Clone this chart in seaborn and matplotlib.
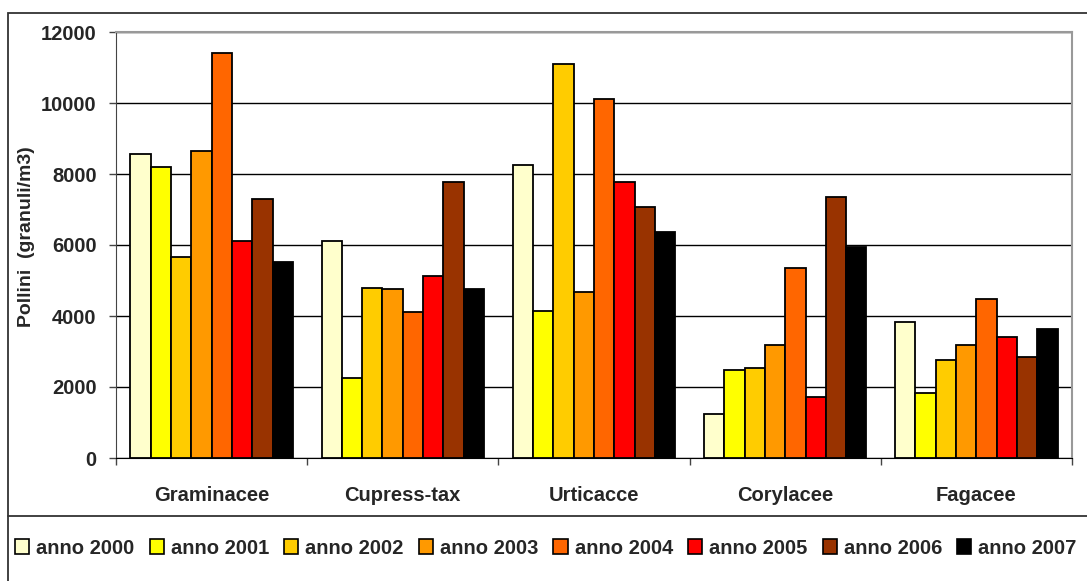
import pandas as pd
import matplotlib.pyplot as plt
import seaborn as sns
from matplotlib.patches import Rectangle
from matplotlib.ticker import FixedLocator

categories = ['Graminacee', 'Cupress-tax', 'Urticacce', 'Corylacee', 'Fagacee']
years = ['anno 2000', 'anno 2001', 'anno 2002', 'anno 2003',
         'anno 2004', 'anno 2005', 'anno 2006', 'anno 2007']

anno_2000 = [8550, 6100, 8260, 1240, 3840]
anno_2001 = [8210, 2250, 4150, 2480, 1830]
anno_2002 = [5670, 4800, 11090, 2530, 2760]
anno_2003 = [8650, 4750, 4690, 3190, 3190]
anno_2004 = [11410, 4100, 10110, 5350, 4490]
anno_2005 = [6100, 5130, 7780, 1730, 3400]
anno_2006 = [7300, 7780, 7080, 7350, 2850]
anno_2007 = [5520, 4760, 6380, 5950, 3620]

colors = ['#FFFFCC', '#FFFF00', '#FFCC00', '#FF9900',
          '#FF6600', '#FF0000', '#993300', '#000000']

series = [anno_2000, anno_2001, anno_2002, anno_2003,
          anno_2004, anno_2005, anno_2006, anno_2007]
rows = []
for year, vals in zip(years, series):
    for cat, v in zip(categories, vals):
        rows.append({'categoria': cat, 'anno': year, 'pollini': v})
df = pd.DataFrame(rows)

sns.set_style('white')
plt.rcParams['font.family'] = ['Liberation Sans', 'DejaVu Sans']
plt.rcParams['font.weight'] = 'bold'

W, H = 1087, 581
fig = plt.figure(figsize=(W / 100, H / 100), dpi=100)
ax = fig.add_axes([116 / W, 1 - 458 / H, (1072 - 116) / W, (458 - 32) / H])

sns.barplot(data=df, x='categoria', y='pollini', hue='anno', order=categories,
            hue_order=years, palette=colors, width=0.85, edgecolor='black',
            linewidth=1.3, saturation=1, errorbar=None, ax=ax, legend=False)

ax.set_ylim(0, 12000)
ax.set_xlim(-0.5, len(categories) - 0.5)
ax.set_yticks(range(0, 12001, 2000))
ax.yaxis.grid(True, color='black', linewidth=1)
ax.set_axisbelow(True)

ax.tick_params(axis='y', left=True, length=5, width=1, direction='out',
               pad=9, labelsize=14.5, color='#444444')
ax.tick_params(axis='x', which='major', length=0, pad=20, labelsize=14.5)
ax.xaxis.set_minor_locator(FixedLocator([i - 0.5 for i in range(len(categories) + 1)]))
ax.tick_params(axis='x', which='minor', bottom=True, length=5, width=1, color='#444444')
for lab in ax.get_xticklabels() + ax.get_yticklabels():
    lab.set_fontweight('bold')

ax.set_xlabel('')
ax.set_ylabel('Pollini  (granuli/m3)', fontsize=14, fontweight='bold')
ax.yaxis.set_label_coords(35 / W, 1 - 237 / H, transform=fig.transFigure)

for side in ['top', 'right']:
    ax.spines[side].set_color('#999999')
    ax.spines[side].set_linewidth(1.5)
ax.spines['left'].set_color('#444444')
ax.spines['bottom'].set_color('black')

# outer frame and legend box
fig.patches.append(Rectangle((8 / W, -0.01), 1.0, 1 - 13 / H + 0.01,
                             transform=fig.transFigure, fill=False,
                             edgecolor='#333333', linewidth=1.3))
fig.lines.append(plt.Line2D([8 / W, 1.0], [1 - 516 / H, 1 - 516 / H],
                            transform=fig.transFigure, color='#333333', linewidth=1.3))

handles = [Rectangle((0, 0), 1, 1, facecolor=c, edgecolor='black', linewidth=1.2)
           for c in colors]
fig.legend(handles, years, loc='center', bbox_to_anchor=(546 / W, 1 - 548 / H),
           ncol=8, frameon=False, handlelength=0.7, handleheight=0.7,
           handletextpad=0.35, columnspacing=0.75, borderaxespad=0,
           prop={'size': 14.5, 'weight': 'bold'})

fig.savefig('out.png', dpi=100)
